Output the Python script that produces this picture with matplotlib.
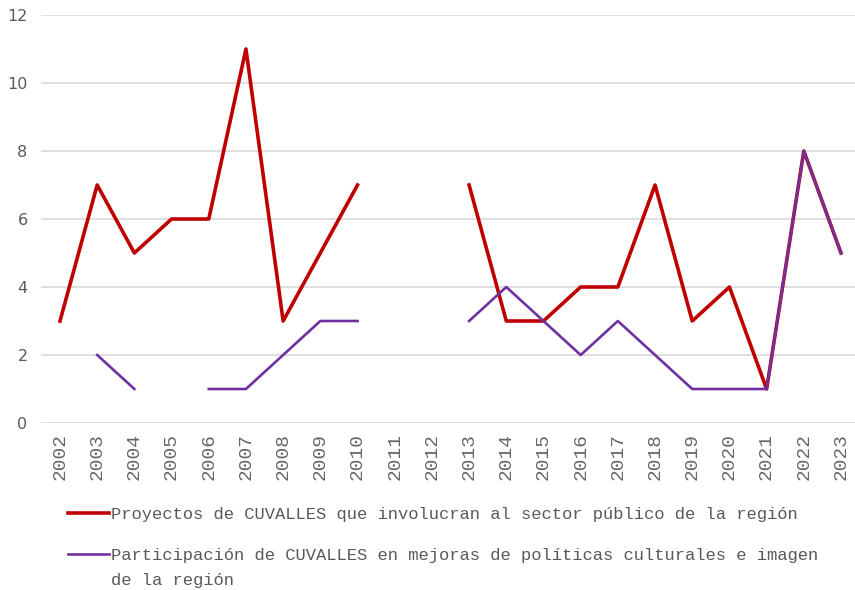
import numpy as np
import matplotlib.pyplot as plt

years = [str(y) for y in range(2002, 2024)]
nan = np.nan
# proyectos con el sector público
proyectos = [3, 7, 5, 6, 6, 11, 3, 5, 7, nan, nan, 7, 3, 3, 4, 4, 7, 3, 4, 1, 8, 5]
# participación en políticas culturales
participacion = [nan, 2, 1, nan, 1, 1, 2, 3, 3, nan, nan, 3, 4, 3, 2, 3, 2, 1, 1, 1, 8, 5]

lbl_1 = 'Proyectos de CUVALLES que involucran al sector público de la región'
lbl_2 = 'Participación de CUVALLES en mejoras de políticas culturales e imagen'
lbl_2b = 'de la región'

mono = {'family': 'Liberation Mono', 'size': 12.3}
gris = '#595959'

fig = plt.figure(figsize=(8.55, 5.90), dpi=100)
ax = fig.add_axes([41.4 / 855, 1 - 423 / 590, 818.2 / 855, 408 / 590])

x = np.arange(len(years))
ax.plot(x, proyectos, color='#C00000', lw=2.6, label=lbl_1)
ax.plot(x, participacion, color='#7030A0', lw=1.9, label=lbl_2)

ax.set_xlim(-0.5, len(years) - 0.5)
ax.set_ylim(0, 12)
ax.set_yticks(range(0, 13, 2))
ax.set_xticks(x)
ax.set_xticklabels(years, rotation=90, family='Liberation Mono', fontsize=14, color='#666666')
ax.tick_params(axis='y', labelsize=11.5, labelcolor=gris, length=0, pad=10)
ax.tick_params(axis='x', length=0, pad=7)
ax.grid(axis='y', color='#D9D9D9', lw=1.2)
ax.set_axisbelow(True)
for s in ax.spines.values():
    s.set_visible(False)

leg = fig.legend(loc='upper left', bbox_to_anchor=(61 / 855, 1 - 500 / 590), frameon=False,
                 prop=mono, labelcolor=gris,
                 handlelength=2.4, handletextpad=0.12, labelspacing=1.55, borderaxespad=0)

# segunda línea de la etiqueta larga, debajo de su primera línea
fig.canvas.draw()
bb = leg.get_texts()[1].get_window_extent()
fig.text(bb.x0 / 855, (bb.y0 - 22) / 590, lbl_2b, fontdict=mono, color=gris)

fig.savefig('out.png', dpi=100)
